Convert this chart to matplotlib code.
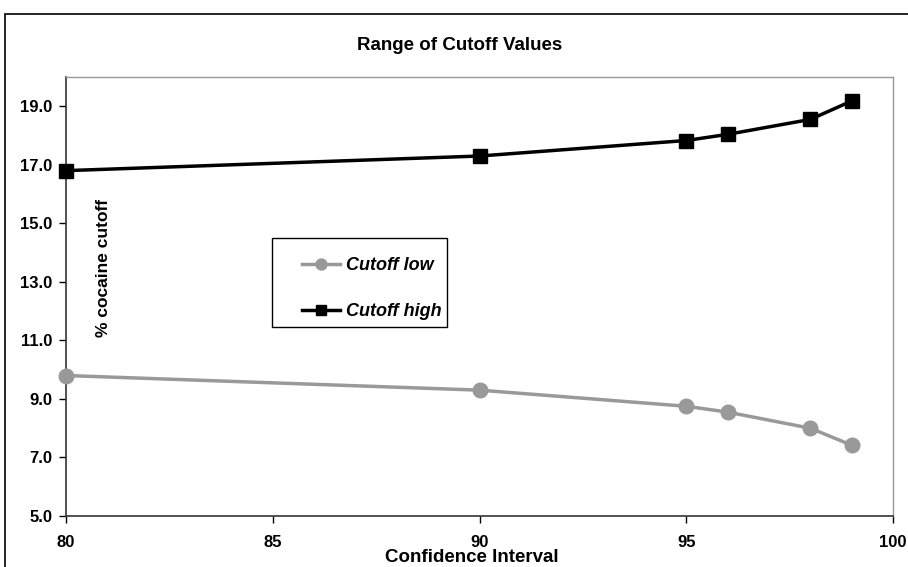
import matplotlib
matplotlib.use("Agg")
import matplotlib.pyplot as plt
from matplotlib.patches import Rectangle

# confidence interval levels and the cutoff values
conf_levels = [80, 90, 95, 96, 98, 99]
cutoff_low = [9.8, 9.3, 8.75, 8.55, 8.0, 7.42]
cutoff_high = [16.8, 17.3, 17.83, 18.04, 18.55, 19.18]

x_ticks = [80, 85, 90, 95, 100]
y_ticks = [5.0, 7.0, 9.0, 11.0, 13.0, 15.0, 17.0, 19.0]

plt.rcParams['font.family'] = ['Liberation Sans', 'DejaVu Sans']

W, H = 908, 567
fig = plt.figure(figsize=(W / 100, H / 100), dpi=100)
ax = fig.add_axes([66 / W, 1 - 516 / H, (893 - 66) / W, (516 - 77) / H])

# outer chart border
fig.patches.append(Rectangle((5 / W, -0.1), 1.2, 1 - 14 / H + 0.1,
                             transform=fig.transFigure, fill=False,
                             edgecolor='black', linewidth=1.2))

ax.plot(conf_levels, cutoff_low, color='#999999', lw=2.5, marker='o',
        markersize=10.5, label='Cutoff low', clip_on=False, zorder=3)
ax.plot(conf_levels, cutoff_high, color='black', lw=2.5, marker='s',
        markersize=10.5, label='Cutoff high', clip_on=False, zorder=3)

ax.set_xlim(80, 100)
ax.set_ylim(5, 20)
ax.set_xticks(x_ticks)
ax.set_yticks(y_ticks)
ax.set_xticklabels([str(t) for t in x_ticks], fontsize=12, fontweight='bold')
ax.set_yticklabels([f"{t:.1f}" for t in y_ticks], fontsize=12, fontweight='bold')
ax.tick_params(axis='both', direction='out', length=5, width=1, color='black')
ax.tick_params(axis='x', pad=9)
ax.tick_params(axis='y', pad=5)

for side in ['left', 'bottom']:
    ax.spines[side].set_color('#333333')
    ax.spines[side].set_linewidth(1.2)
for side in ['top', 'right']:
    ax.spines[side].set_color('#999999')
    ax.spines[side].set_linewidth(1.0)

fig.text(460 / W, 1 - 45 / H, 'Range of Cutoff Values', ha='center',
         va='center', fontsize=13.5, fontweight='bold')
fig.text(472 / W, 1 - 558 / H, 'Confidence Interval', ha='center',
         va='center', fontsize=13.5, fontweight='bold')
fig.text(104 / W, 1 - 268 / H, '% cocaine cutoff', ha='center',
         va='center', rotation=90, fontsize=12.5, fontweight='bold')

# legend box drawn separately so the padding can be uneven like the original
fig.patches.append(Rectangle((272 / W, 1 - 327 / H), (447 - 272) / W, (327 - 238) / H,
                             transform=fig.transFigure, fill=False,
                             edgecolor='black', linewidth=1.0, zorder=4))
leg = ax.legend(loc='upper left', bbox_to_anchor=(302 / W, 1 - 257 / H),
                bbox_transform=fig.transFigure, frameon=False, borderpad=0,
                labelspacing=1.62, handlelength=2.1, handletextpad=0.35,
                markerscale=0.75,
                prop={'weight': 'bold', 'style': 'italic', 'size': 13},
                borderaxespad=0)

fig.savefig('out.png', dpi=100)
